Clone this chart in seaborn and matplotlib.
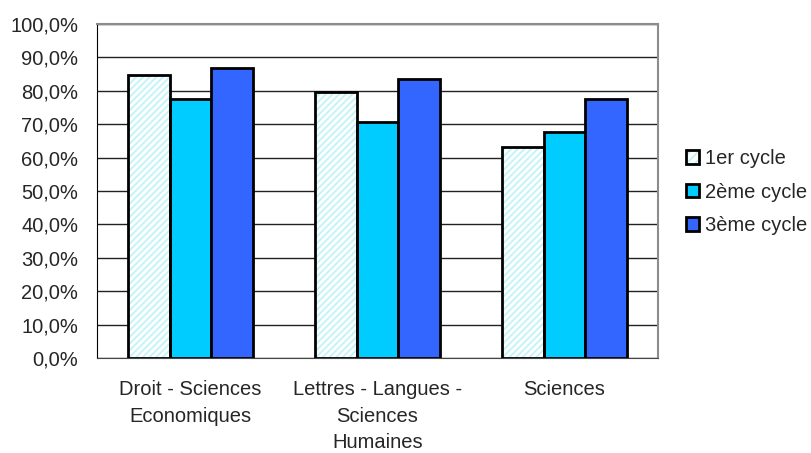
import matplotlib
matplotlib.use("Agg")
import matplotlib.pyplot as plt
from matplotlib.patches import Patch, Rectangle
from matplotlib.legend_handler import HandlerTuple
from matplotlib.ticker import FuncFormatter, FixedLocator
import seaborn as sns
import pandas as pd

# Taux par filière et par cycle (%)
filieres = ["Droit - Sciences\nEconomiques", "Lettres - Langues -\nSciences\nHumaines", "Sciences"]
cycles = ["1er cycle", "2ème cycle", "3ème cycle"]
cycle1 = [84.8, 79.6, 63.2]
cycle2 = [77.4, 70.6, 67.8]
cycle3 = [86.7, 83.4, 77.6]

df = pd.DataFrame({
    "filiere": filieres * 3,
    "cycle": [cycles[0]] * 3 + [cycles[1]] * 3 + [cycles[2]] * 3,
    "taux": cycle1 + cycle2 + cycle3,
})

FS = 14.5

sns.set_style("white")
plt.rcParams["font.family"] = ["Liberation Sans", "DejaVu Sans"]
plt.rcParams["font.size"] = FS
plt.rcParams["hatch.linewidth"] = 1.3

fig = plt.figure(figsize=(8.11, 4.53), dpi=100)
ax = fig.add_axes([0.1196, 0.2097, 0.6917, 0.7373])

palette = {"1er cycle": "white", "2ème cycle": "#00ccff", "3ème cycle": "#3366ff"}
sns.barplot(data=df, x="filiere", y="taux", hue="cycle", order=filieres,
            hue_order=cycles, palette=palette, width=0.667, gap=0,
            edgecolor="black", linewidth=2, saturation=1, ax=ax,
            legend=False, zorder=3)

# Hachures claires pour le 1er cycle, contour noir par-dessus
hatch_col = "#c0f4f8"
for p in ax.containers[0].patches:
    p.set_facecolor("white")
    p.set_edgecolor(hatch_col)
    p.set_hatch("/////")
    p.set_linewidth(0)
    ax.add_patch(Rectangle(p.get_xy(), p.get_width(), p.get_height(),
                           fill=False, edgecolor="black", linewidth=2, zorder=4))

ax.set_ylim(0, 100)
ax.set_xlim(-0.5, 2.5)
ax.set_yticks(range(0, 101, 10))
ax.yaxis.set_major_formatter(FuncFormatter(lambda v, _: f"{v:.1f}%".replace(".", ",")))
ax.grid(axis="y", color="#222222", linewidth=1, zorder=0)
ax.set_axisbelow(True)

ax.xaxis.set_minor_locator(FixedLocator([-0.5, 0.5, 1.5, 2.5]))
ax.tick_params(axis="x", which="major", length=0, pad=16, labelsize=FS)
ax.tick_params(axis="x", which="minor", length=6, width=1, color="black", direction="out")
ax.tick_params(axis="y", length=6, width=1, color="black", direction="out", pad=7.5, labelsize=FS)
for lbl in ax.get_xticklabels():
    lbl.set_horizontalalignment("center")
    lbl.set_multialignment("center")
    lbl.set_linespacing(1.5)
ax.set_xlabel("")
ax.set_ylabel("")

for side in ["top", "right"]:
    ax.spines[side].set_color("#8c8c8c")
    ax.spines[side].set_linewidth(1.5)
ax.spines["left"].set_color("black")
ax.spines["bottom"].set_color("#444444")
for s in ax.spines.values():
    s.set_visible(True)

handles = [
    (Patch(facecolor="white", edgecolor=hatch_col, hatch="////", linewidth=0),
     Patch(facecolor="none", edgecolor="black", linewidth=2)),
    Patch(facecolor="#00ccff", edgecolor="black", linewidth=2),
    Patch(facecolor="#3366ff", edgecolor="black", linewidth=2),
]
fig.legend(handles, cycles, loc="center left", bbox_to_anchor=(0.846, 0.576),
           frameon=False, handlelength=0.62, handleheight=0.62, handletextpad=0.3,
           labelspacing=0.72, fontsize=FS, borderpad=0, borderaxespad=0,
           handler_map={tuple: HandlerTuple(ndivide=1)})

fig.savefig("out.png", dpi=100)
